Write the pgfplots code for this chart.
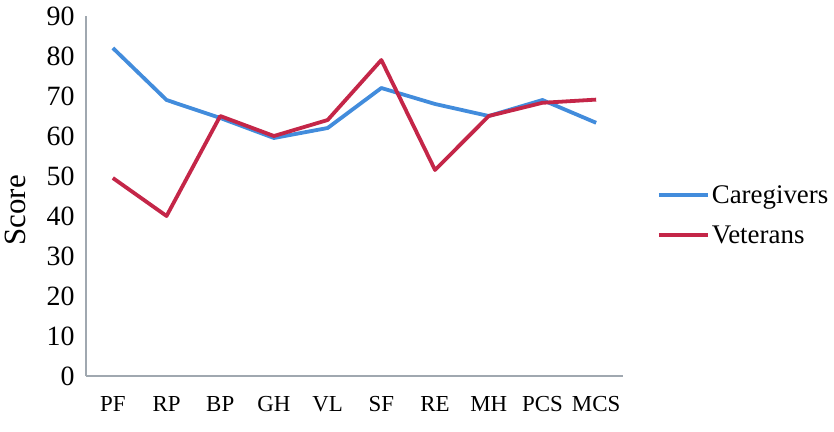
\documentclass[border=0pt]{standalone}
\usepackage{fontspec}
\setmainfont{Liberation Serif}
\usepackage{pgfplots}
\pgfplotsset{compat=1.18}
\definecolor{cblue}{RGB}{66,140,220}
\definecolor{cred}{RGB}{196,38,72}
\definecolor{axgray}{RGB}{160,168,176}
\begin{document}
\begin{tikzpicture}
\begin{axis}[
  scale only axis,
  width=537bp, height=360bp,
  at={(0,0)}, anchor=south west,
  xmin=-0.5, xmax=9.5, ymin=0, ymax=90,
  xtick={0,...,9},
  xticklabels={PF,RP,BP,GH,VL,SF,RE,MH,PCS,MCS},
  ytick={0,10,...,90},
  axis x line=bottom, axis y line=left,
  axis line style={draw=axgray, line width=1.2bp, -},
  major tick length=0pt,
  /pgf/number format/assume math mode=true,
  yticklabel style={font=\fontsize{28}{32}\selectfont, xshift=-8bp},
  xticklabel style={font=\fontsize{23}{27}\selectfont, yshift=-17bp},
  ylabel={Score},
  ylabel style={at={(axis description cs:-0.132,0.46)}, anchor=center, font=\fontsize{31}{36}\selectfont},
  legend style={at={(axis description cs:1.063,0.447)}, anchor=west, draw=none, fill=none,
    font=\fontsize{27}{32}\selectfont, row sep=17bp, inner sep=0pt},
  legend cell align=left,
  legend image code/.code={\draw[#1] (0bp,0bp) -- (49bp,0bp);},
  every axis plot/.append style={line width=3.8bp, line join=round, no markers},
]
\addplot[cblue] coordinates {(0,82) (1,69) (2,64.5) (3,59.5) (4,62) (5,72) (6,68) (7,65) (8,69) (9,63.3)};
\addlegendentry{Caregivers}
\addplot[cred] coordinates {(0,49.5) (1,40) (2,65) (3,60) (4,64) (5,79) (6,51.5) (7,65) (8,68.3) (9,69.1)};
\addlegendentry{Veterans}
\end{axis}
\pgfresetboundingbox
\path (-86bp,-56bp) rectangle (748bp,376bp);
\end{tikzpicture}
\end{document}
